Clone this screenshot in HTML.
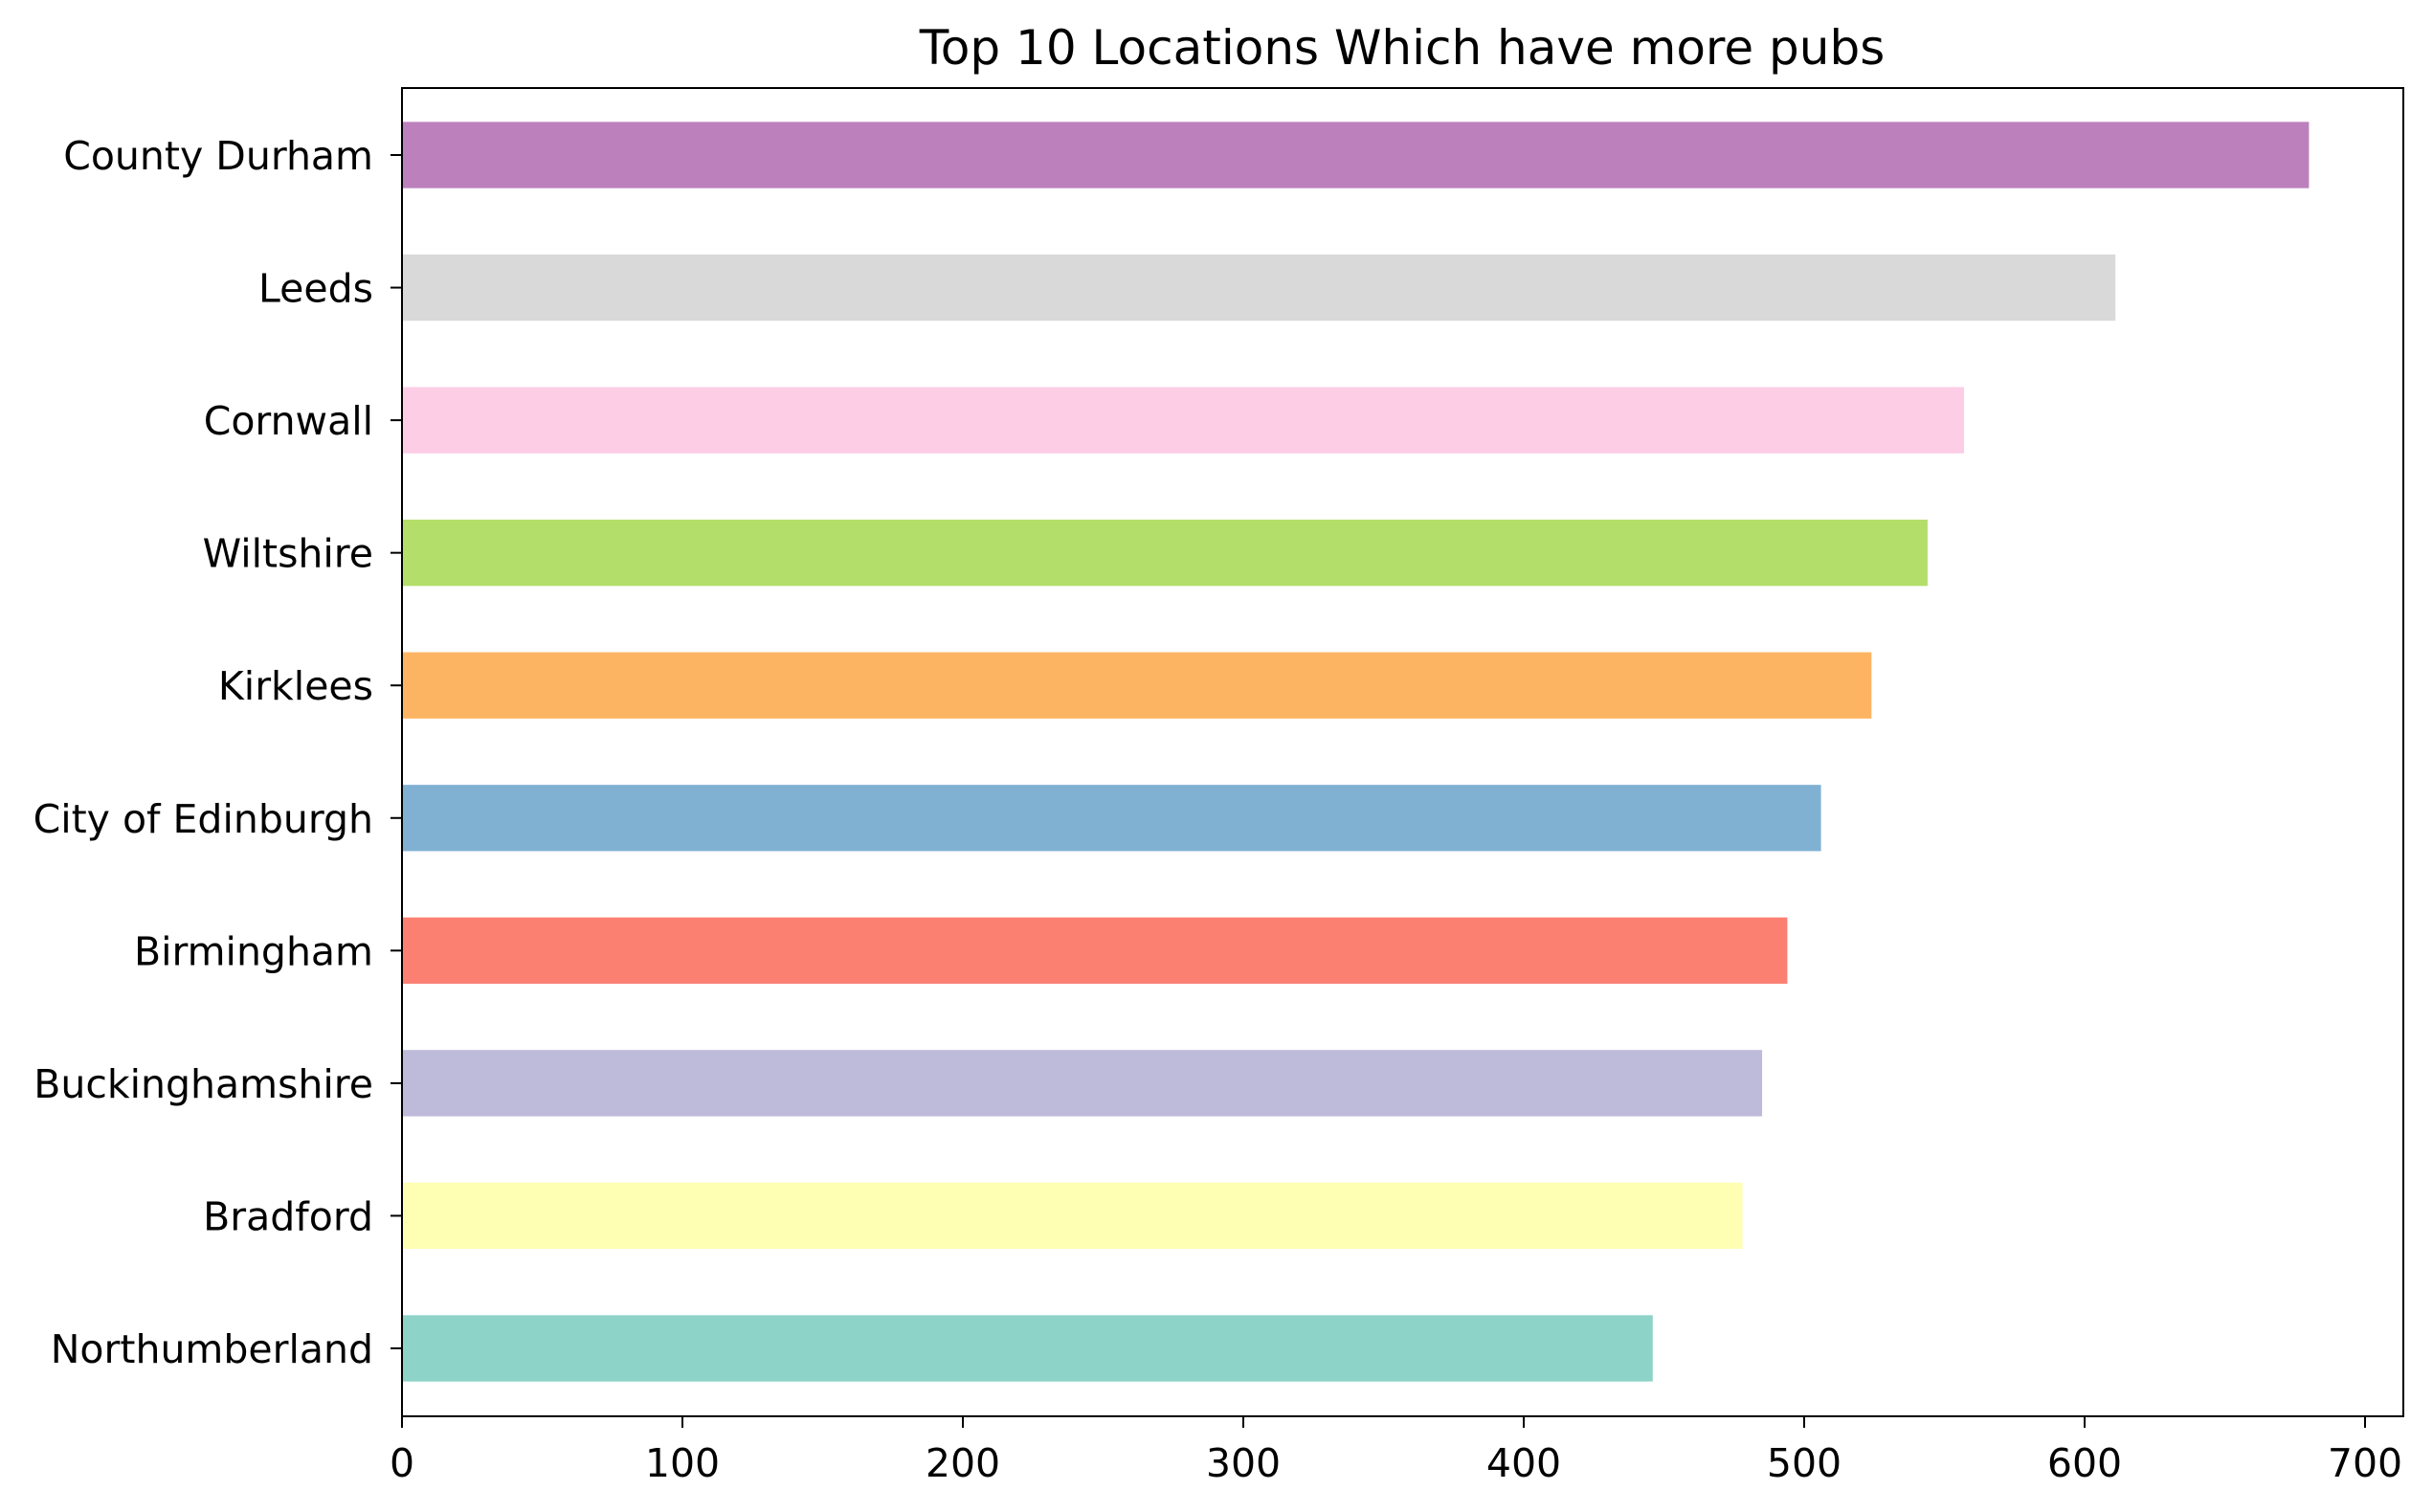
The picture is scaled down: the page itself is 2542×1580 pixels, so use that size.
<!DOCTYPE html>
<html><head><meta charset="utf-8"><style>body{margin:0;background:#fff}svg{display:block;font-family:"DejaVu Sans","Liberation Sans",sans-serif}</style></head>
<body>
<svg id="chart" width="2542" height="1580" viewBox="0 0 2542 1580" xmlns="http://www.w3.org/2000/svg">
<rect width="2542" height="1580" fill="#fff"/>
<text x="1465" y="67" font-size="50" text-anchor="middle">Top 10 Locations Which have more pubs</text>
<g id="bars"></g><g id="axes"></g>
</svg>
<script>
const categories = ["County Durham","Leeds","Cornwall","Wiltshire","Kirklees","City of Edinburgh","Birmingham","Buckinghamshire","Bradford","Northumberland"];
const values = [680,611,557,544,524,506,494,485,478,446];
const colors = ["#bc80bd","#d9d9d9","#fccde5","#b3de69","#fdb462","#80b1d3","#fb8072","#bebada","#ffffb3","#8dd3c7"];
const xTicks = [0,100,200,300,400,500,600,700];
const L=420,R=2511,T=92,B=1480;
const xs=v=>L+v*(2471-L)/700;
const step=(1409-162)/9;
const ys=i=>162+i*step;
const NS="http://www.w3.org/2000/svg";
const bars=document.getElementById('bars'),axes=document.getElementById('axes');
function mk(tag,attrs,parent){const e=document.createElementNS(NS,tag);for(const k in attrs)e.setAttribute(k,attrs[k]);parent.appendChild(e);return e;}
categories.forEach((c,i)=>{
  const r=mk('rect',{x:xs(0),y:ys(i)-step*0.25,width:xs(values[i])-xs(0),height:step*0.5,fill:colors[i]},bars);
  
  
  const t=mk('line',{x1:L-12,x2:L,y1:ys(i),y2:ys(i),stroke:'#000','stroke-width':2},axes);
  
  
  const lb=mk('text',{x:L-30,y:ys(i)+15,'font-size':41,'text-anchor':'end'},axes);
  lb.textContent=c;
  
  
});
xTicks.forEach(v=>{
  const t=mk('line',{x1:xs(v),x2:xs(v),y1:B,y2:B+12,stroke:'#000','stroke-width':2},axes);
  
  
  const lb=mk('text',{x:xs(v),y:B+63,'font-size':41,'text-anchor':'middle'},axes);
  lb.textContent=v;
  
  
});
const f=mk('rect',{x:L,y:T,width:R-L,height:B-T,fill:'none',stroke:'#000','stroke-width':2},axes);


</script>
</body></html>
